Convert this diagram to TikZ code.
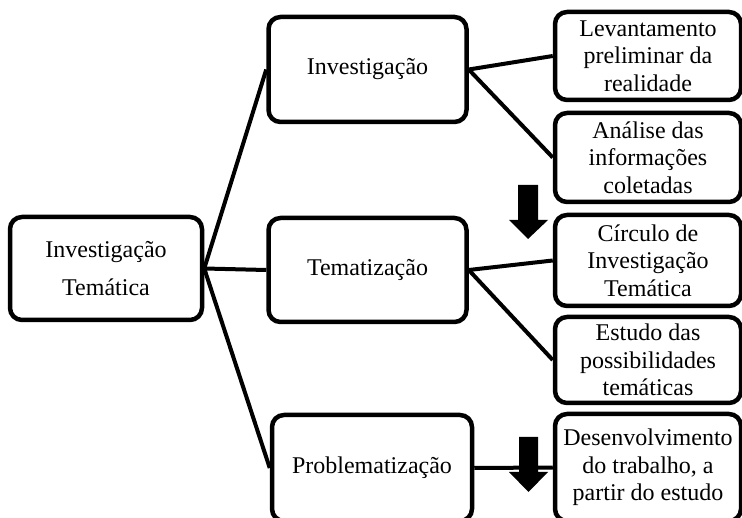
\documentclass[tikz,border=0pt]{standalone}
\usepackage{fontspec}
\setmainfont{Liberation Serif}
\begin{document}
\begin{tikzpicture}[x=1pt,y=-1pt,
  caixa/.style={draw,line width=4.5pt,rounded corners=12pt,align=center,inner sep=0pt,
    font=\fontsize{24}{27.5}\selectfont},
  liga/.style={line width=4pt}]
\useasboundingbox (0,0) rectangle (742,518);
\clip (0,0) rectangle (742,518);
\node[caixa,minimum width=192pt,minimum height=103pt] (tema) at (106,268.5) {Investigação\\[10pt]Temática};
\node[caixa,minimum width=198pt,minimum height=105pt] (invest) at (367.5,69.5) {Investigação};
\node[caixa,minimum width=198pt,minimum height=104pt] (tematiz) at (367.5,270) {Tematização};
\node[caixa,minimum width=200pt,minimum height=106pt] (problem) at (372,468) {Problematização};
\node[caixa,minimum width=186pt,minimum height=88pt] (levant) at (648,56) {Levantamento\\preliminar da\\realidade};
\node[caixa,minimum width=186pt,minimum height=89pt] (analise) at (648,157.5) {Análise das\\informações\\coletadas};
\node[caixa,minimum width=186pt,minimum height=91pt] (circulo) at (648,260.5) {Círculo de\\Investigação\\Temática};
\node[caixa,minimum width=186pt,minimum height=86pt] (estudo) at (648,360) {Estudo das\\possibilidades\\temáticas};
\node[caixa,minimum width=186pt,minimum height=107pt] (desenv) at (648,467.5) {Desenvolvimento\\do trabalho, a\\partir do estudo};
\draw[liga] (tema.east) -- (invest.west);
\draw[liga] (tema.east) -- (tematiz.west);
\draw[liga] (tema.east) -- (problem.west);
\draw[liga] (invest.east) -- (levant.west);
\draw[liga] (invest.east) -- (analise.west);
\draw[liga] (tematiz.east) -- (circulo.west);
\draw[liga] (tematiz.east) -- (estudo.west);
\draw[liga] (problem.east) -- (desenv.west);
% setas
\fill (518,185) -- (538,185) -- (538,220) -- (548,220) -- (528,239) -- (509,220) -- (518,220) -- cycle;
\fill (519,437) -- (538,437) -- (538,472) -- (548,472) -- (528.5,492) -- (509,472) -- (519,472) -- cycle;
\end{tikzpicture}
\end{document}
